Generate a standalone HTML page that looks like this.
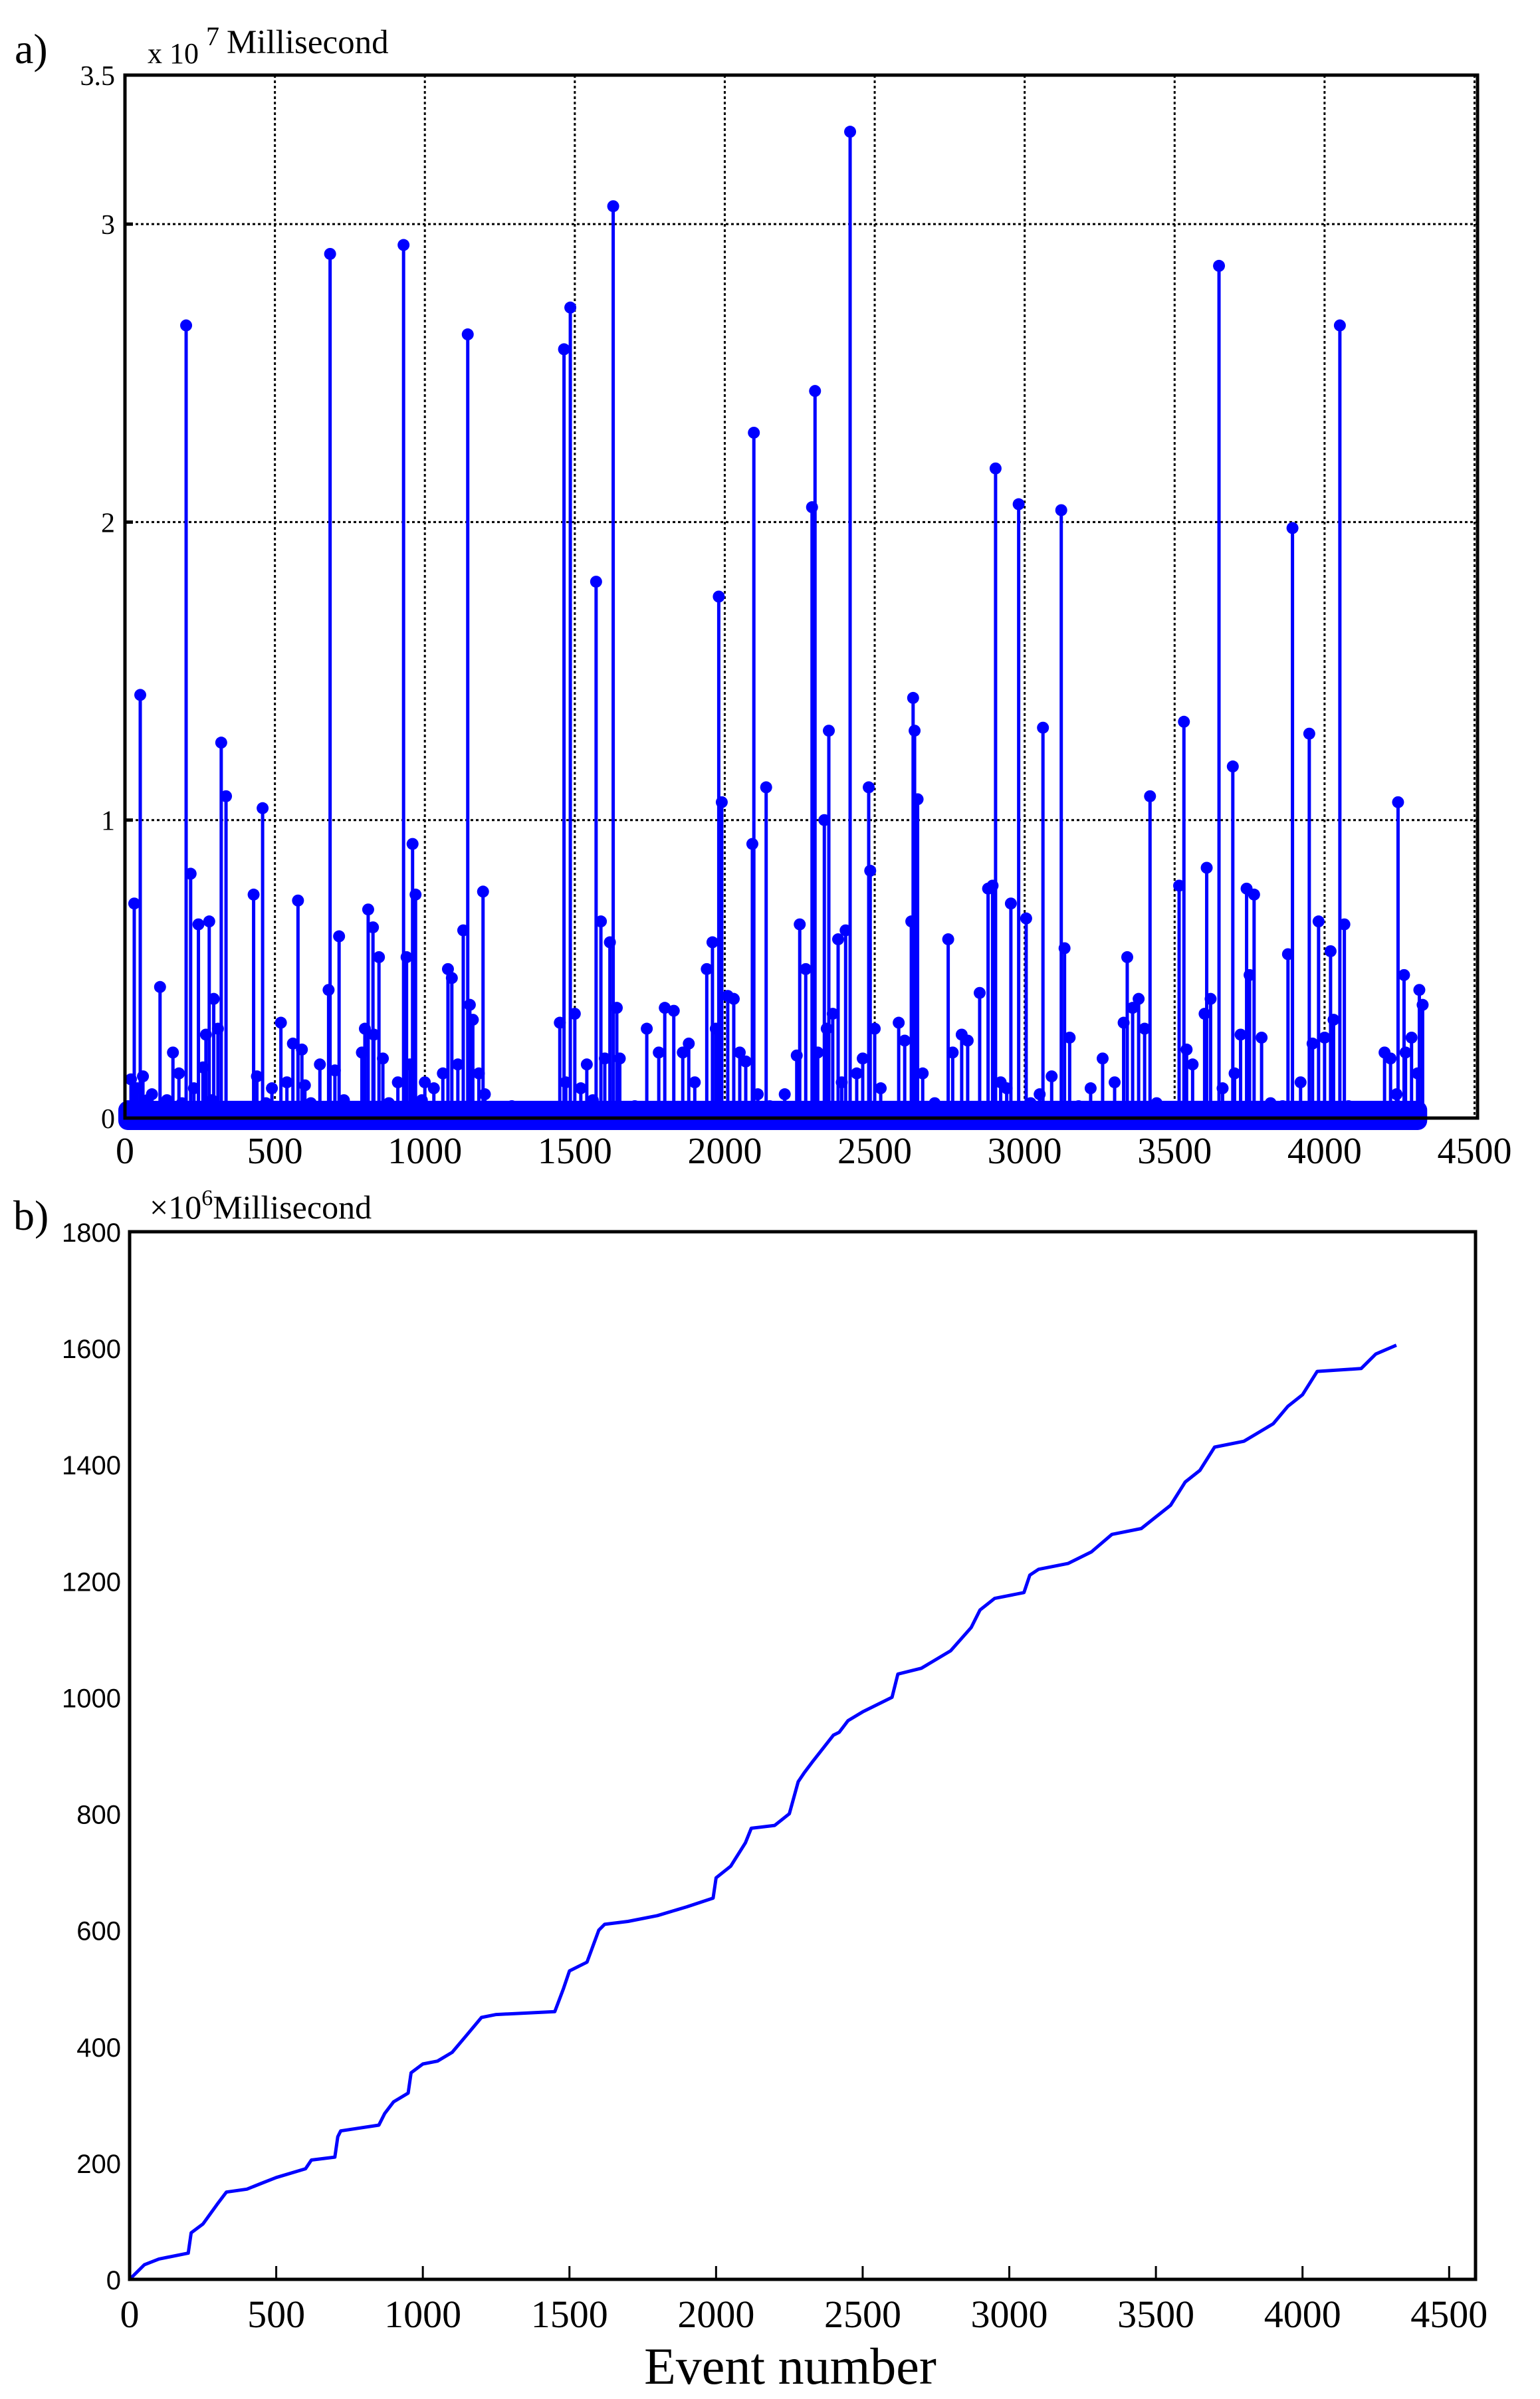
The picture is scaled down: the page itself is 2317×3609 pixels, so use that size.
<!DOCTYPE html>
<html>
<head>
<meta charset="utf-8">
<style>
html,body{margin:0;padding:0;background:#fff;}
svg{display:block;}
text{font-family:"Liberation Serif",serif;fill:#000;}
</style>
</head>
<body>
<svg id="fig" width="2317" height="3609" viewBox="0 0 2317 3609" xmlns="http://www.w3.org/2000/svg">
  <rect x="0" y="0" width="2317" height="3609" fill="#fff"/>
  <g id="panelA"></g>
  <g id="panelB"></g>
</svg>
<script>
// ---------- Panel a data (durations, units of 1e7 ms) ----------
const stemEvents = [51,204,219,31,117,245,281,321,337,296,429,459,684,679,577,714,929,959,969,939,811,827,847,1143,1128,1194,1077,1464,1485,1628,1571,1587,1617,1980,1990,1959,2097,2092,2138,2250,2301,2291,2332,2347,2378,2403,2418,2480,2485,2628,2633,2643,2622,2745,2903,2893,2878,2954,2980,3005,3061,3122,3133,3342,3418,3515,3531,3607,3648,3694,3740,3765,3893,3878,3949,3980,4020,4051,4066,4245,4265,4316,4327,
10,20,40,60,75,90,140,160,180,190,230,260,270,290,310,350,380,440,470,490,520,540,560,590,600,620,650,700,730,790,800,830,860,880,910,950,990,1000,1030,1060,1090,1110,1150,1160,1180,1200,1250,1290,1450,1470,1500,1520,1540,1560,1600,1640,1650,1700,1740,1780,1800,1830,1860,1880,1900,1940,1970,2010,2030,2050,2070,2110,2150,2200,2240,2270,2310,2340,2360,2390,2440,2460,2500,2520,2580,2600,2660,2700,2760,2790,2810,2850,2920,2940,3020,3050,3090,3150,3180,3220,3260,3300,3330,3360,3380,3400,3440,3480,3540,3560,3600,3620,3660,3700,3720,3750,3790,3820,3860,3920,3960,4000,4030,4080,4150,4200,4220,4240,4270,4290,4310];
const stemValues = [1.42,2.66,0.82,0.72,0.44,0.65,0.66,1.26,1.08,0.40,0.75,1.04,2.90,0.43,0.73,0.61,2.93,0.92,0.75,0.54,0.70,0.64,0.54,2.63,0.63,0.76,0.50,2.58,2.72,3.06,1.80,0.66,0.59,1.75,1.06,0.59,2.30,0.92,1.11,0.65,2.44,2.05,1.00,1.30,0.60,0.63,3.31,1.11,0.83,1.41,1.30,1.07,0.66,0.60,2.18,0.78,0.77,0.72,2.06,0.67,1.31,2.04,0.57,0.54,1.08,0.78,1.33,0.84,2.86,1.18,0.77,0.75,1.98,0.55,1.29,0.66,0.56,2.66,0.65,1.06,0.48,0.43,0.38,
0.04,0.13,0.10,0.14,0.06,0.08,0.06,0.22,0.15,0.05,0.10,0.17,0.28,0.06,0.30,0.03,0.02,0.14,0.05,0.10,0.32,0.12,0.25,0.23,0.11,0.05,0.18,0.16,0.06,0.22,0.30,0.28,0.20,0.05,0.12,0.18,0.06,0.12,0.10,0.15,0.47,0.18,0.38,0.33,0.15,0.08,0.03,0.04,0.32,0.12,0.35,0.10,0.18,0.06,0.20,0.37,0.20,0.04,0.30,0.22,0.37,0.36,0.22,0.25,0.12,0.50,0.30,0.41,0.40,0.22,0.19,0.08,0.04,0.08,0.21,0.50,0.22,0.30,0.35,0.12,0.15,0.20,0.30,0.10,0.32,0.26,0.15,0.05,0.22,0.28,0.26,0.42,0.12,0.10,0.05,0.08,0.14,0.27,0.04,0.10,0.20,0.12,0.32,0.37,0.40,0.30,0.05,0.02,0.23,0.18,0.35,0.40,0.10,0.15,0.28,0.48,0.27,0.05,0.04,0.12,0.25,0.27,0.33,0.04,0.02,0.22,0.20,0.08,0.22,0.27,0.15];
const totalEvents = 4320;
const aXTicks = [0,500,1000,1500,2000,2500,3000,3500,4000,4500];
const aXTickLabels = ["0","500","1000","1500","2000","2500","3000","3500","4000","4500"];
const aYTicks = [0,1,2,3,3.5];
const aYTickLabels = ["0","1","2","3","3.5"];

// ---------- Panel b data (cumulative, units of 1e6 ms) ----------
const cumEvents = [0,50,100,200,210,250,300,330,400,450,500,600,620,700,710,720,850,870,900,950,960,1000,1050,1100,1150,1200,1250,1450,1480,1500,1560,1600,1620,1700,1800,1900,1990,2000,2050,2100,2120,2200,2250,2280,2300,2330,2400,2420,2450,2500,2600,2620,2700,2800,2870,2900,2950,3050,3070,3100,3200,3280,3350,3450,3500,3550,3600,3650,3700,3800,3900,3950,4000,4050,4200,4250,4320];
const cumValues = [0,25,35,45,80,95,130,150,155,165,175,190,205,210,245,255,265,285,305,320,355,370,375,390,420,450,455,460,500,530,545,600,610,615,625,640,655,690,710,750,775,780,800,855,870,890,935,940,960,975,1000,1040,1050,1080,1120,1150,1170,1180,1210,1220,1230,1250,1280,1290,1310,1330,1370,1390,1430,1440,1470,1500,1520,1560,1565,1590,1605];
const bXTicks = [0,500,1000,1500,2000,2500,3000,3500,4000,4500];
const bXTickLabels = ["0","500","1000","1500","2000","2500","3000","3500","4000","4500"];
const bYTicks = [0,200,400,600,800,1000,1200,1400,1600,1800];
const bYTickLabels = ["0","200","400","600","800","1000","1200","1400","1600","1800"];

const NS = "http://www.w3.org/2000/svg";
function mk(tag, attrs, parent){
  const e = document.createElementNS(NS, tag);
  for (const k in attrs) e.setAttribute(k, attrs[k]);
  parent.appendChild(e);
  return e;
}

// ---------- Panel a ----------
(function(){
  const g = document.getElementById('panelA');
  const L=188, R=2223, T=113, B=1682;
  const xMax = 4510, yMax = 3.5;
  const xS = v => L + v/xMax*(R-L);
  const yS = v => B - v/yMax*(B-T);

  aXTicks.forEach(t=>{
    if (t>0 && t<xMax){
      const ln = mk('line',{x1:xS(t),x2:xS(t),y1:T,y2:B,stroke:'#000','stroke-width':3,'stroke-dasharray':'4,4'},g);
      
      
    }
  });
  aYTicks.forEach(t=>{
    if (t>0 && t<yMax){
      const ln = mk('line',{x1:L,x2:R,y1:yS(t),y2:yS(t),stroke:'#000','stroke-width':3,'stroke-dasharray':'4,4'},g);
      
      
    }
  });

  const band = mk('rect',{x:xS(0)-10,y:yS(0)-26,width:xS(totalEvents)-xS(0)+20,height:44,rx:14,fill:'#0000ff'},g);
  
  

  for (let i=0;i<stemEvents.length;i++){
    const x = xS(stemEvents[i]), y = yS(stemValues[i]);
    const s = mk('line',{x1:x,x2:x,y1:yS(0),y2:y,stroke:'#0000ff','stroke-width':5},g);
    
    
    const c = mk('circle',{cx:x,cy:y,r:9,fill:'#0000ff'},g);
    
    
  }

  const box = mk('rect',{x:L,y:T,width:R-L,height:B-T,fill:'none',stroke:'#000','stroke-width':5},g);
  
  

  aXTicks.forEach((t,i)=>{
    const x = Math.min(xS(t), 2237);
    const lb = mk('text',{x:x,y:1750,'font-size':56,'text-anchor':'middle'},g);
    lb.textContent = aXTickLabels[i];
    
    
  });
  aYTicks.forEach((t,i)=>{
    const tk = mk('line',{x1:L,x2:L+12,y1:yS(t),y2:yS(t),stroke:'#000','stroke-width':5},g);
    
    
    const lb = mk('text',{x:173,y:yS(t)+15,'font-size':42,'text-anchor':'end'},g);
    lb.textContent = aYTickLabels[i];
    
    
  });
})();

// ---------- Panel b ----------
(function(){
  const g = document.getElementById('panelB');
  const L=195, R=2220, T=1853, B=3429;
  const xMax = 4590, yMax = 1800;
  const xS = v => L + v/xMax*(R-L);
  const yS = v => B - v/yMax*(B-T);

  let d = '';
  for (let i=0;i<cumEvents.length;i++){
    d += (i===0?'M':'L') + xS(cumEvents[i]).toFixed(1) + ',' + yS(cumValues[i]).toFixed(1);
  }
  const p = mk('path',{d:d,fill:'none',stroke:'#0000ff','stroke-width':5,'stroke-linejoin':'round'},g);
  
  

  const box = mk('rect',{x:L,y:T,width:R-L,height:B-T,fill:'none',stroke:'#000','stroke-width':5},g);
  
  

  bXTicks.forEach((t,i)=>{
    const x = xS(t);
    if (t>0 && t<xMax){
      const tk = mk('line',{x1:x,x2:x,y1:B,y2:B-20,stroke:'#000','stroke-width':3},g);
      
      
    }
    const lb = mk('text',{x:x,y:3501,'font-size':58,'text-anchor':'middle'},g);
    lb.textContent = bXTickLabels[i];
    
    
  });
  bYTicks.forEach((t,i)=>{
    const lb = mk('text',{x:182,y:yS(t)+15,'font-size':40,'text-anchor':'end',style:'font-family:"Liberation Sans",sans-serif'},g);
    lb.textContent = bYTickLabels[i];
    
    
  });
})();
</script>
<svg style="position:absolute;left:0;top:0" width="2317" height="3609" xmlns="http://www.w3.org/2000/svg">
  <text x="22" y="95" font-size="64">a)</text>
  <text x="222" y="95" font-size="44">x 10</text>
  <text x="310" y="68" font-size="40">7</text>
  <text x="341" y="80" font-size="51">Millisecond</text>
  <text x="20" y="1850" font-size="64">b)</text>
  <text x="225" y="1833" font-size="50">×10<tspan dy="-20" font-size="34">6</tspan><tspan dy="20">Millisecond</tspan></text>
  <text x="1189" y="3586" font-size="78" text-anchor="middle">Event number</text>
</svg>
</body>
</html>
